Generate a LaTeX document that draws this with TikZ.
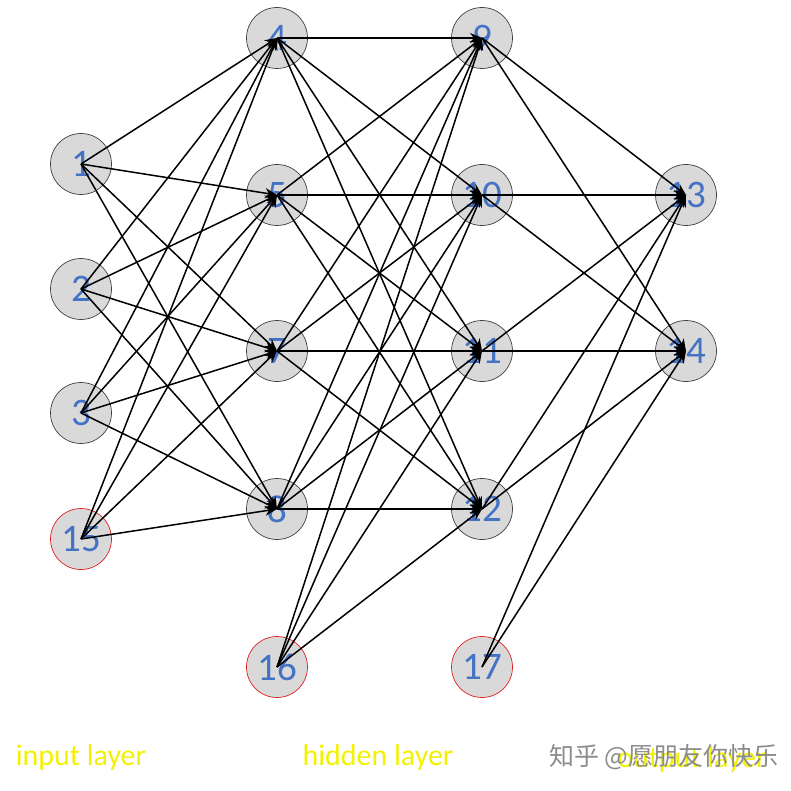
\documentclass[tikz,border=0pt]{standalone}
\usepackage{fontspec}
\setmainfont{Carlito}
\newfontfamily\cjkfont{Noto Sans CJK SC}
\usetikzlibrary{arrows.meta}
\definecolor{nodefill}{HTML}{D9D9D9}
\definecolor{nodeline}{HTML}{404040}
\definecolor{numblue}{HTML}{4472C4}
\definecolor{biasred}{HTML}{E02020}
\definecolor{labyellow}{HTML}{F2F200}
\definecolor{wmgray}{HTML}{8C8C8C}
\tikzset{
  neuron/.style={circle, minimum size=61pt, inner sep=0pt, fill=nodefill, draw=nodeline, line width=0.7pt,
    text=numblue, font=\fontsize{39}{39}\selectfont},
  biasneuron/.style={neuron, draw=biasred},
  edge/.style={line width=1.5pt, -{Stealth[length=12pt,width=10pt]}},
  layerlabel/.style={text=labyellow, font=\fontsize{30}{30}\selectfont, inner sep=0pt}
}
\begin{document}
\begin{tikzpicture}[x=1pt,y=-1pt]
\useasboundingbox (0,0) rectangle (790,791);
% input layer
\node[neuron] (n1) at (81,164) {1};
\node[neuron] (n2) at (81,289) {2};
\node[neuron] (n3) at (81,413) {3};
\node[biasneuron] (n15) at (81,539) {15};
% hidden layer 1
\node[neuron] (n4) at (277,38) {4};
\node[neuron] (n5) at (277,195) {5};
\node[neuron] (n7) at (277,351) {7};
\node[neuron] (n8) at (277,509) {8};
\node[biasneuron] (n16) at (277,667) {16};
% hidden layer 2
\node[neuron] (n9) at (482,38) {9};
\node[neuron] (n10) at (482,195) {10};
\node[neuron] (n11) at (482,351) {11};
\node[neuron] (n12) at (482,509) {12};
\node[biasneuron] (n17) at (482,667) {17};
% output layer
\node[neuron] (n13) at (686,195) {13};
\node[neuron] (n14) at (686,351) {14};
% connections
\foreach \s in {n1,n2,n3,n15}
  \foreach \t in {n4,n5,n7,n8}
    \draw[edge] (\s.center) -- (\t.center);
\foreach \s in {n4,n5,n7,n8,n16}
  \foreach \t in {n9,n10,n11,n12}
    \draw[edge] (\s.center) -- (\t.center);
\foreach \s in {n9,n10,n11,n12,n17}
  \foreach \t in {n13,n14}
    \draw[edge] (\s.center) -- (\t.center);
% labels
\node[layerlabel] (lin) at (81,757) {input layer};
\node[layerlabel] (lhid) at (378,757) {hidden layer};
\node[layerlabel] (lout) at (692,759) {output layer};
\node[text=wmgray, font=\cjkfont\fontsize{25}{25}\selectfont, inner sep=0pt] (wm) at (664,757) {知乎 @愿朋友你快乐};
\end{tikzpicture}
\end{document}
